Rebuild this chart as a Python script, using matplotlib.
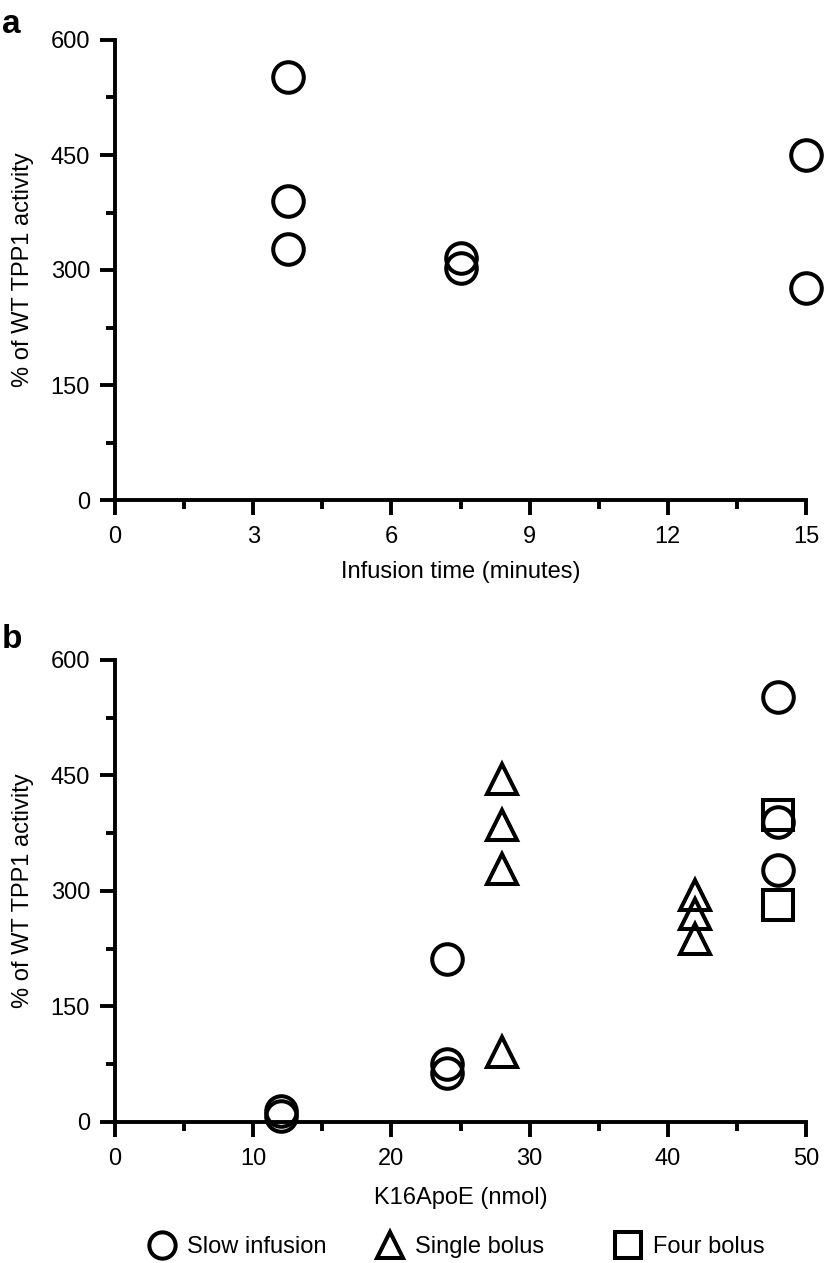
import matplotlib
matplotlib.use("Agg")
import matplotlib.pyplot as plt
from matplotlib.ticker import MultipleLocator

plt.rcParams['font.family'] = ['Liberation Sans', 'DejaVu Sans']

# ---- Data ----
# Panel a: slow infusion, infusion time (min) vs % of WT TPP1 activity
a_time = [3.75, 3.75, 3.75, 7.5, 7.5, 15, 15]
a_activity = [552, 390, 327, 316, 303, 450, 276]

# Panel b: K16ApoE dose (nmol) vs % of WT TPP1 activity
slow_dose = [12, 12, 24, 24, 24, 48, 48, 48]
slow_activity = [14, 7, 212, 75, 63, 552, 390, 327]
single_dose = [28, 28, 28, 28, 42, 42, 42]
single_activity = [446, 386, 328, 90, 295, 270, 237]
four_dose = [48, 48]
four_activity = [399, 281]

a_xticks = [0, 3, 6, 9, 12, 15]
b_xticks = [0, 10, 20, 30, 40, 50]
yticks = [0, 150, 300, 450, 600]

legend_labels = ["Slow infusion", "Single bolus", "Four bolus"]

W, H = 826, 1263
fig = plt.figure(figsize=(W / 100, H / 100), dpi=100)

FS = 17
LW = 2.8
MS = 22
MEW = 2.9

def style_axes(ax, xmax, xmajor, xminor, xticks, labelpad_x):
    ax.set_xlim(0, xmax)
    ax.set_ylim(0, 600)
    for s in ['top', 'right']:
        ax.spines[s].set_visible(False)
    for s in ['left', 'bottom']:
        ax.spines[s].set_linewidth(LW)
    ax.set_xticks(xticks)
    ax.xaxis.set_minor_locator(MultipleLocator(xminor))
    ax.set_yticks(yticks)
    ax.yaxis.set_minor_locator(MultipleLocator(75))
    ax.tick_params(which='major', length=11, width=LW, labelsize=FS)
    ax.tick_params(which='minor', length=6.5, width=LW)
    ax.tick_params(axis='x', which='major', pad=8)
    ax.tick_params(axis='y', which='major', pad=7)
    ax.set_ylabel("% of WT TPP1 activity", fontsize=FS, labelpad=12)

def px_axes(left, top, right, bottom):
    return [left / W, 1 - bottom / H, (right - left) / W, (bottom - top) / H]

# Panel a
ax1 = fig.add_axes(px_axes(115, 40, 806, 500))
style_axes(ax1, 15, 3, 1.5, a_xticks, 9)
ax1.plot(a_time, a_activity, linestyle='none', marker='o', ms=MS, mew=MEW,
         mfc='none', mec='black', clip_on=False, zorder=3)
ax1.set_xlabel("Infusion time (minutes)", fontsize=FS, labelpad=9)

# Panel b
ax2 = fig.add_axes(px_axes(115, 660, 806, 1121.7))
style_axes(ax2, 50, 10, 5, b_xticks, 12)
h1, = ax2.plot(slow_dose, slow_activity, linestyle='none', marker='o', ms=MS, mew=MEW,
               mfc='none', mec='black', clip_on=False, zorder=3)
h2, = ax2.plot(single_dose, single_activity, linestyle='none', marker='^', ms=MS, mew=MEW,
               mfc='none', mec='black', clip_on=False, zorder=3)
h3, = ax2.plot(four_dose, four_activity, linestyle='none', marker='s', ms=MS, mew=MEW,
               mfc='none', mec='black', clip_on=False, zorder=3)
ax2.set_xlabel("K16ApoE (nmol)", fontsize=FS, labelpad=12)

# Panel letters
fig.text(2 / W, 1 - 33 / H, "a", fontsize=24, fontweight='bold', va='baseline', ha='left')
fig.text(2 / W, 1 - 648 / H, "b", fontsize=24, fontweight='bold', va='baseline', ha='left')

# Legend: three separate entries
handles = [h1, h2, h3]
anchors_px = [144.3, 372.3, 610.3]
for h, lab, xp in zip(handles, legend_labels, anchors_px):
    leg = fig.legend([h], [lab], loc='center left', bbox_to_anchor=(xp / W, 1 - 1247 / H),
                     frameon=False, fontsize=FS, handlelength=1.5, handletextpad=0.3,
                     borderpad=0, borderaxespad=0, markerscale=0.86, numpoints=1)

fig.savefig("out.png", dpi=100)
